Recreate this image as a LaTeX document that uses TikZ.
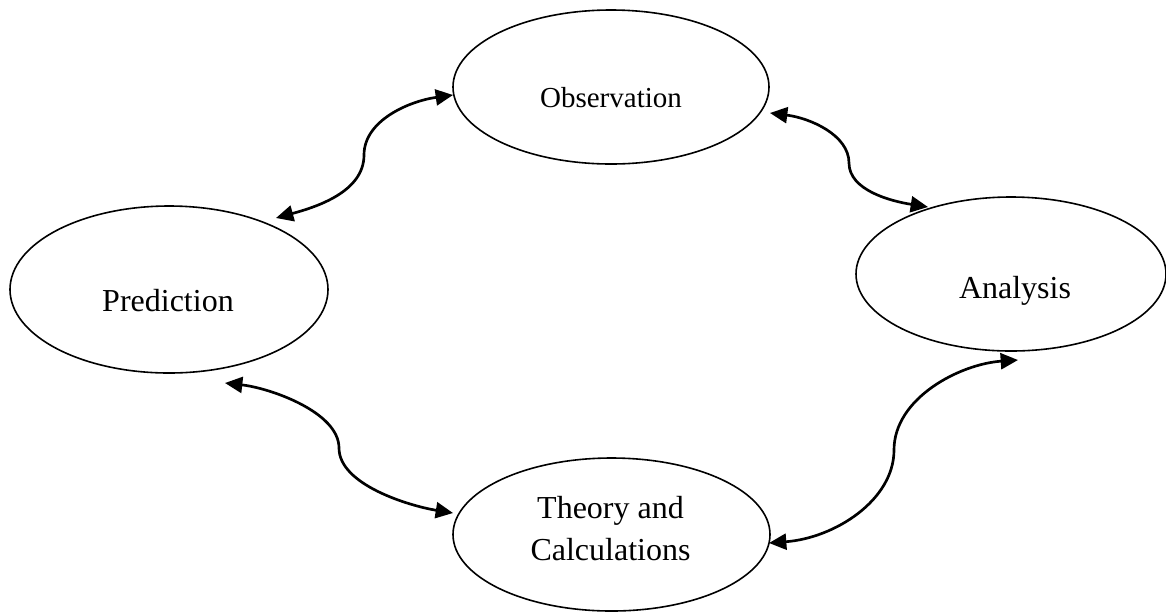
\documentclass[tikz,border=0pt]{standalone}
\usepackage{fontspec}
\setmainfont{Liberation Serif}
\usetikzlibrary{shapes.geometric,arrows.meta,calc}
\begin{document}
\begin{tikzpicture}[x=0.75pt,y=-0.75pt,
  oval/.style={draw=black,line width=1.2pt,ellipse,inner sep=0pt},
  lbl/.style={anchor=base,inner sep=0pt,font=\fontsize{24pt}{28pt}\selectfont},
  link/.style={line width=2pt,{Triangle[length=13pt,width=12pt]}-{Triangle[length=13pt,width=12pt]}}]
\useasboundingbox (0,0) rectangle (1166,612);
% ellipses
\node[oval,minimum width=316*0.75pt,minimum height=154*0.75pt] (obs) at (611,87) {};
\node[oval,minimum width=318*0.75pt,minimum height=167*0.75pt] (pred) at (169,289.5) {};
\node[oval,minimum width=310*0.75pt,minimum height=154*0.75pt] (ana) at (1011,274) {};
\node[oval,minimum width=317*0.75pt,minimum height=153*0.75pt] (theo) at (611.5,534.5) {};
% labels
\node[lbl,font=\fontsize{21.75pt}{26pt}\selectfont] (tobs) at (611,107) {Observation};
\node[lbl] (tpred) at (168,311) {Prediction};
\node[lbl] (tana) at (1015,298) {Analysis};
\node[lbl] (ttheo1) at (610.5,518) {Theory and};
\node[lbl] (ttheo2) at (610.5,560) {Calculations};
% connector waypoints
\coordinate (m1) at (364,155);
\coordinate (m2) at (849,163);
\coordinate (m3) at (339,448);
\coordinate (m4) at (894,450);
% connectors
\draw[link] ($(pred.center)+(107,-71.5)$) .. controls (316,207) and (364,192) .. (m1)
  .. controls (364,120) and (410,101) .. ($(obs.center)+(-158,8)$);
\draw[link] ($(obs.center)+(159,26)$) .. controls (810,118) and (849,135) .. (m2)
  .. controls (849,190) and (890,201) .. ($(ana.center)+(-83,-67)$);
\draw[link] ($(pred.center)+(56,93.5)$) .. controls (270,388) and (339,412) .. (m3)
  .. controls (339,485) and (410,506) .. ($(theo.center)+(-158.5,-21.5)$);
\draw[link] ($(theo.center)+(157.5,8.5)$) .. controls (835,538) and (894,500) .. (m4)
  .. controls (894,398) and (960,364) .. ($(ana.center)+(7,86)$);
\end{tikzpicture}
\end{document}
